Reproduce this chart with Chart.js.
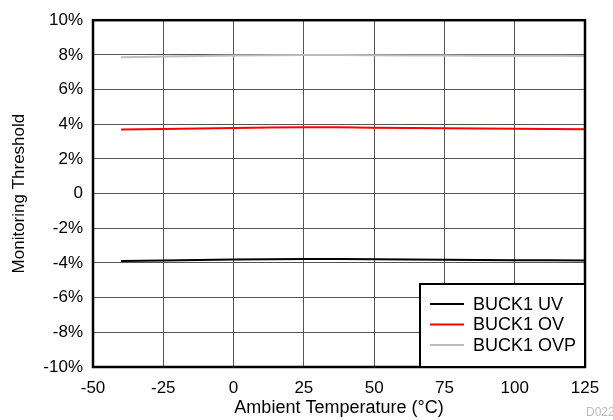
<!DOCTYPE html>
<html><head><meta charset="utf-8">
<script src="https://cdn.jsdelivr.net/npm/chart.js@4/dist/chart.umd.min.js"></script>
<style>html,body{margin:0;padding:0;background:#fff}</style>
</head><body>
<canvas id="c" width="613" height="420"></canvas>
<script>
const temps = [-40, -25, 0, 25, 50, 75, 100, 125];
const uv = [-3.89, -3.86, -3.8, -3.77, -3.79, -3.82, -3.84, -3.86];
const ov = [3.69, 3.72, 3.78, 3.83, 3.8, 3.77, 3.74, 3.71];
const ovp = [7.86, 7.9, 7.96, 8.0, 7.98, 7.96, 7.95, 7.94];
const seriesNames = ['BUCK1 UV', 'BUCK1 OV', 'BUCK1 OVP'];
const seriesColors = ['#000000', '#ff0000', '#bdbdbd'];
const xTicks = [-50, -25, 0, 25, 50, 75, 100, 125];
const yTicks = [-10, -8, -6, -4, -2, 0, 2, 4, 6, 8, 10];

const FONT = 'Liberation Sans, Arial, sans-serif';
const mk = (d) => temps.map((t, i) => ({x: t, y: d[i]}));
const dsets = [uv, ov, ovp].map((d, i) => ({
  label: seriesNames[i], data: mk(d), borderColor: seriesColors[i],
  borderWidth: 2, pointRadius: 0, tension: 0.3, fill: false
}));

const frame = {
  id: 'frame',
  afterDraw(chart) {
    const {ctx, chartArea: a} = chart;
    ctx.save();
    ctx.strokeStyle = '#000'; ctx.lineWidth = 2.5;
    ctx.strokeRect(a.left, a.top, a.right - a.left, a.bottom - a.top);
    // legend
    const bx = 420, by = 284, bw = a.right - bx, bh = a.bottom - by;
    ctx.fillStyle = '#fff'; ctx.fillRect(bx, by, bw, bh);
    ctx.lineWidth = 2; ctx.strokeStyle = '#000'; ctx.strokeRect(bx, by, bw, bh);
    ctx.font = '18px ' + FONT; ctx.textBaseline = 'middle'; ctx.textAlign = 'left';
    chart.data.datasets.forEach((ds, i) => {
      const y = by + 20 + i * 20.5;
      ctx.strokeStyle = ds.borderColor; ctx.lineWidth = 2;
      ctx.beginPath(); ctx.moveTo(430, y); ctx.lineTo(464, y); ctx.stroke();
      ctx.fillStyle = '#000'; ctx.fillText(ds.label, 473, y + 1);
    });
    ctx.font = '12px ' + FONT; ctx.fillStyle = '#bbbbbb'; ctx.textAlign = 'left';
    ctx.fillText('D022', 586, 413);
    ctx.restore();
  }
};

new Chart(document.getElementById('c'), {
  type: 'line',
  data: {datasets: dsets},
  options: {
    responsive: false, animation: false,
    layout: {padding: {top: 16, right: 28, left: 9, bottom: 0}},
    plugins: {legend: {display: false}, tooltip: {enabled: false}},
    scales: {
      x: {
        type: 'linear', min: -50, max: 125,
        afterFit(s) { s.height = 53; },
        afterBuildTicks(s) { s.ticks = xTicks.map(v => ({value: v})); },
        grid: {color: '#555', lineWidth: 1, drawTicks: false},
        border: {display: false},
        ticks: {color: '#000', font: {size: 17, family: FONT}, padding: 11, maxRotation: 0},
        title: {display: true, text: 'Ambient Temperature (°C)', color: '#000', font: {size: 18, family: FONT}, padding: {top: 0, bottom: 1}}
      },
      y: {
        type: 'linear', min: -10, max: 10,
        afterFit(s) { s.width = 84; },
        afterBuildTicks(s) { s.ticks = yTicks.map(v => ({value: v})); },
        grid: {color: '#555', lineWidth: 1, drawTicks: false},
        border: {display: false},
        ticks: {color: '#000', font: {size: 17, family: FONT}, padding: 10,
          callback: v => v === 0 ? '0' : v + '%'},
        title: {display: true, text: 'Monitoring Threshold', color: '#000', font: {size: 17, family: FONT}, padding: {top: 0, bottom: 0}}
      }
    }
  },
  plugins: [frame]
});
</script>
</body></html>
